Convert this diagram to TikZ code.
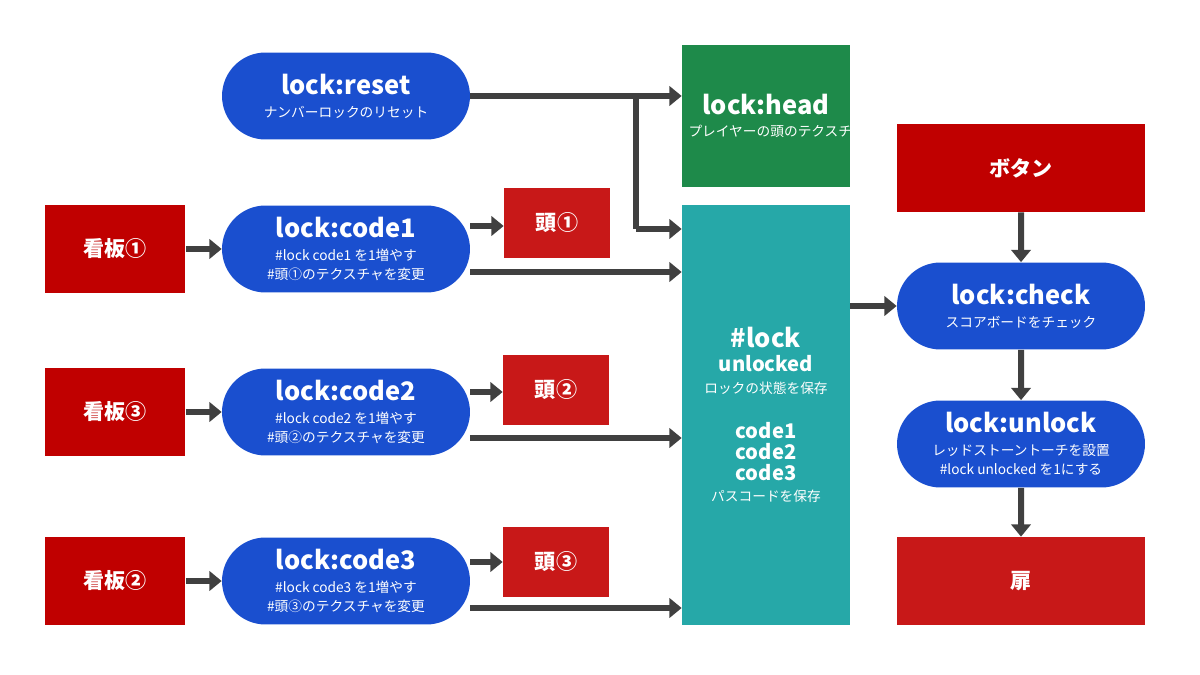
\documentclass[tikz,border=0pt]{standalone}
\usepackage{fontspec}
\setmainfont{Noto Sans CJK JP}
\usetikzlibrary{shapes.misc,arrows.meta}
\definecolor{pblue}{HTML}{1A4FCF}
\definecolor{pred}{HTML}{C00000}
\definecolor{pred2}{HTML}{C81818}
\definecolor{pgreen}{HTML}{1E8A4A}
\definecolor{pteal}{HTML}{26A8A8}
\definecolor{parr}{HTML}{404040}
\newcommand{\T}[1]{{\fontsize{14.5}{17}\selectfont\bfseries #1}}
\newcommand{\Sm}[1]{{\fontsize{7.8}{9.5}\selectfont #1}}
\newcommand{\M}[1]{{\fontsize{11.5}{13.5}\selectfont\bfseries #1}}
\begin{document}
\begin{tikzpicture}[x=0.02cm,y=-0.02cm,
  pill/.style={rounded rectangle,fill=pblue,text=white,minimum width=4.96cm,minimum height=1.74cm,align=center,inner sep=0pt},
  box/.style={rectangle,fill=pred,text=white,align=center,inner sep=0pt,font=\fontsize{12}{14}\selectfont\bfseries},
  arr/.style={draw=parr,line width=3.4pt,-{Triangle[length=7pt,width=11pt]}},
  plain/.style={draw=parr,line width=3.4pt}]
\useasboundingbox (0,0) rectangle (1200,675);
\node[pill] (reset) at (346,96) {\T{lock:reset}\\[1pt]\Sm{ナンバーロックのリセット}};
\node[rectangle,fill=pgreen,text=white,minimum width=3.36cm,minimum height=2.84cm,align=center,text width=3.1cm] (head) at (766,116) {\T{lock:head}\\[1pt]\Sm{プレイヤーの頭のテクスチャデータを保存}};
\node[box,minimum width=4.96cm,minimum height=1.76cm] (btn) at (1021,168) {ボタン};
\node[box,minimum width=2.82cm,minimum height=1.76cm] (k1) at (115,249) {看板①};
\node[box,minimum width=2.82cm,minimum height=1.76cm] (k3) at (115,412) {看板③};
\node[box,minimum width=2.82cm,minimum height=1.76cm] (k2) at (115,581) {看板②};
\node[pill] (c1) at (346,249) {\T{lock:code1}\\[1pt]\Sm{\#lock code1 を1増やす}\\[-1pt]\Sm{\#頭①のテクスチャを変更}};
\node[pill] (c2) at (346,412) {\T{lock:code2}\\[1pt]\Sm{\#lock code2 を1増やす}\\[-1pt]\Sm{\#頭②のテクスチャを変更}};
\node[pill] (c3) at (346,581) {\T{lock:code3}\\[1pt]\Sm{\#lock code3 を1増やす}\\[-1pt]\Sm{\#頭③のテクスチャを変更}};
\node[box,fill=pred2,minimum width=2.12cm,minimum height=1.4cm] (h1) at (557,223) {頭①};
\node[box,fill=pred2,minimum width=2.12cm,minimum height=1.4cm] (h2) at (556,390) {頭②};
\node[box,fill=pred2,minimum width=2.12cm,minimum height=1.4cm] (h3) at (556,562) {頭③};
\node[rectangle,fill=pteal,text=white,minimum width=3.36cm,minimum height=8.4cm,align=center] (lock) at (766,415) {\T{\#lock}\\[2pt]\M{unlocked}\\\Sm{ロックの状態を保存}\\[14pt]\M{code1}\\\M{code2}\\\M{code3}\\\Sm{パスコードを保存}};
\node[pill] (check) at (1021,306) {\T{lock:check}\\[1pt]\Sm{スコアボードをチェック}};
\node[pill] (unlock) at (1021,444) {\T{lock:unlock}\\[1pt]\Sm{レッドストーントーチを設置}\\[-1pt]\Sm{\#lock unlocked を1にする}};
\node[box,fill=pred2,minimum width=4.96cm,minimum height=1.76cm] (door) at (1021,581) {扉};
\coordinate (br) at (636,96);
\coordinate (bt) at (636,229);
\draw[arr] (reset.east) -- (head.west |- reset.east);
\draw[plain] (br) -- (bt);
\draw[arr] (bt) -- (lock.west |- bt);
\draw[arr] (k1) -- (c1);
\draw[arr] (k3) -- (c2);
\draw[arr] (k2) -- (c3);
\coordinate (a1) at (470,226); \coordinate (a2) at (470,392); \coordinate (a3) at (470,562);
\coordinate (b1) at (470,272); \coordinate (b2) at (470,438); \coordinate (b3) at (470,608);
\draw[arr] (a1) -- (h1.west |- a1);
\draw[arr] (a2) -- (h2.west |- a2);
\draw[arr] (a3) -- (h3.west |- a3);
\draw[arr] (b1) -- (lock.west |- b1);
\draw[arr] (b2) -- (lock.west |- b2);
\draw[arr] (b3) -- (lock.west |- b3);
\draw[arr] (lock.east |- check) -- (check.west);
\draw[arr] (btn) -- (check);
\draw[arr] (check) -- (unlock);
\draw[arr] (unlock) -- (door);
\end{tikzpicture}
\end{document}
